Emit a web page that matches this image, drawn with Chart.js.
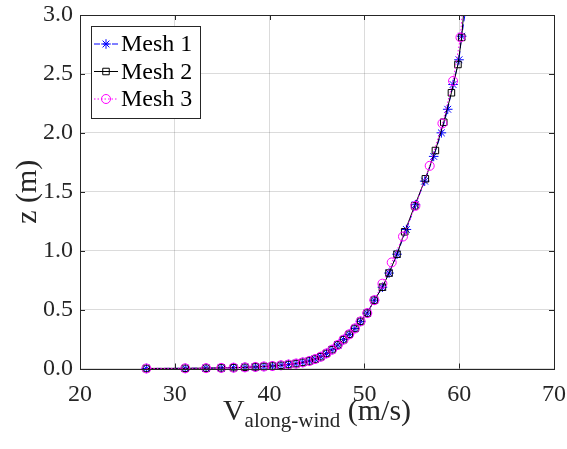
<!DOCTYPE html>
<html>
<head>
<meta charset="utf-8">
<script src="https://cdn.jsdelivr.net/npm/chart.js@4.4.1/dist/chart.umd.min.js"></script>
<style>
  html, body { margin: 0; padding: 0; background: #fff; }
</style>
</head>
<body>
<canvas id="profile" width="567" height="449"></canvas>
<script>
// near-wall samples, identical for the three meshes (z in m, V in m/s)
const nearZ = [0.0005, 0.0015, 0.003, 0.005, 0.007, 0.010, 0.013, 0.017, 0.021, 0.027, 0.034, 0.042,
               0.052, 0.064, 0.080, 0.100, 0.128, 0.160, 0.200, 0.245, 0.290, 0.340, 0.400, 0.470, 0.580];
const nearV = [27.0, 31.1, 33.3, 34.9, 36.2, 37.4, 38.5, 39.4, 40.3, 41.2, 42.0, 42.8,
               43.5, 44.2, 44.8, 45.4, 46.0, 46.6, 47.2, 47.8, 48.4, 49.0, 49.6, 50.3, 51.05];

// upper part of each mesh, last entry is where the profile leaves the axes
const mesh1Z = [0.69, 0.81, 0.97, 1.18, 1.39, 1.59, 1.80, 2.00, 2.20, 2.41, 2.62, 2.82, 3.0];
const mesh1V = [51.9, 52.6, 53.44, 54.43, 55.38, 56.36, 57.31, 58.12, 58.79, 59.35, 59.98, 60.26, 60.6];

const mesh2Z = [0.69, 0.81, 0.97, 1.16, 1.38, 1.61, 1.85, 2.09, 2.34, 2.58, 2.81, 3.0];
const mesh2V = [51.9, 52.6, 53.44, 54.25, 55.3, 56.43, 57.49, 58.37, 59.18, 59.87, 60.26, 60.45];

const mesh3Z = [0.72, 0.90, 1.12, 1.38, 1.72, 2.08, 2.44, 2.81, 3.0];
const mesh3V = [51.9, 52.88, 54.07, 55.38, 56.89, 58.23, 59.35, 60.13, 60.3];

const xTicks = [20, 30, 40, 50, 60, 70];
const yTicks = [0, 0.5, 1.0, 1.5, 2.0, 2.5, 3.0];
const meshNames = ['Mesh 1', 'Mesh 2', 'Mesh 3'];

const SERIF = "'Liberation Serif', 'Times New Roman', serif";
const AXIS_INK = '#262626';

function toPoints(vs, zs) {
  return vs.map((v, i) => ({ x: v, y: zs[i] }));
}

// no marker on the point that sits on the top edge
const markerSize = r => ctx => (ctx.raw && ctx.raw.y >= yTicks[yTicks.length - 1] ? 0 : r);

const series = [
  { label: meshNames[0], data: toPoints(nearV.concat(mesh1V), nearZ.concat(mesh1Z)),
    color: '#0000ff', dash: [6, 3], point: 'star', radius: 4.8, order: 3 },
  { label: meshNames[1], data: toPoints(nearV.concat(mesh2V), nearZ.concat(mesh2Z)),
    color: '#000000', dash: [], point: 'rect', radius: 4.6, order: 2 },
  { label: meshNames[2], data: toPoints(nearV.concat(mesh3V), nearZ.concat(mesh3Z)),
    color: '#ff00ff', dash: [1.5, 2], point: 'circle', radius: 4.5, order: 1 }
];

// legend box drawn the way the plotting tool lays it out: line sample through the marker
const legendBox = {
  id: 'legendBox',
  afterDraw(chart) {
    const c = chart.ctx;
    const x0 = 91, y0 = 26, w = 109, h = 92;
    c.save();
    c.fillStyle = '#fff';
    c.fillRect(x0, y0, w, h);
    c.strokeStyle = AXIS_INK;
    c.lineWidth = 1;
    c.strokeRect(x0 + 0.5, y0 + 0.5, w, h);
    series.forEach((s, i) => {
      const y = 44 + i * 27.5;
      c.strokeStyle = s.color;
      c.fillStyle = 'rgba(0,0,0,0)';
      c.lineWidth = 1;
      c.setLineDash(s.dash);
      c.beginPath();
      c.moveTo(94, y);
      c.lineTo(118, y);
      c.stroke();
      c.setLineDash([]);
      Chart.helpers.drawPoint(c, { pointStyle: s.point, radius: s.radius, rotation: 0, borderWidth: 1 }, 106, y);
      c.fillStyle = '#000';
      c.font = '24px ' + SERIF;
      c.textBaseline = 'middle';
      c.textAlign = 'left';
      c.fillText(s.label, 121, y + 1);
    });
    c.restore();
  }
};

// box frame, inward ticks and axis titles
const frame = {
  id: 'frame',
  afterDatasetsDraw(chart) {
    const c = chart.ctx;
    const a = chart.chartArea;
    const xs = chart.scales.x, ys = chart.scales.y;
    const tick = 5;
    c.save();
    c.strokeStyle = AXIS_INK;
    c.lineWidth = 1;
    c.beginPath();
    xTicks.forEach(t => {
      const px = Math.round(xs.getPixelForValue(t)) + 0.5;
      c.moveTo(px, a.bottom); c.lineTo(px, a.bottom - tick);
      c.moveTo(px, a.top); c.lineTo(px, a.top + tick);
    });
    yTicks.forEach(t => {
      const py = Math.round(ys.getPixelForValue(t)) + 0.5;
      c.moveTo(a.left, py); c.lineTo(a.left + tick, py);
      c.moveTo(a.right, py); c.lineTo(a.right - tick, py);
    });
    c.stroke();
    c.strokeRect(Math.round(a.left) + 0.5, Math.round(a.top) + 0.5,
                 Math.round(a.right - a.left), Math.round(a.bottom - a.top));

    c.fillStyle = AXIS_INK;
    // y title
    c.save();
    c.translate(28, (a.top + a.bottom) / 2);
    c.rotate(-Math.PI / 2);
    c.font = '30px ' + SERIF;
    c.textAlign = 'center';
    c.textBaseline = 'middle';
    c.fillText('z (m)', 0, 0);
    c.restore();

    // x title with subscript
    const main = '30px ' + SERIF, sub = '21px ' + SERIF;
    c.textBaseline = 'alphabetic';
    c.textAlign = 'left';
    c.font = main; const wV = c.measureText('V').width;
    c.font = sub; const wSub = c.measureText('along-wind').width;
    c.font = main; const wUnit = c.measureText(' (m/s)').width;
    let x = (a.left + a.right) / 2 - (wV + wSub + wUnit) / 2;
    const base = 420;
    c.font = main; c.fillText('V', x, base); x += wV;
    c.font = sub; c.fillText('along-wind', x, base + 7); x += wSub;
    c.font = main; c.fillText(' (m/s)', x, base);
    c.restore();
  }
};

new Chart(document.getElementById('profile'), {
  type: 'scatter',
  data: {
    datasets: series.map(s => ({
      label: s.label,
      data: s.data,
      showLine: true,
      borderColor: s.color,
      borderWidth: 1,
      borderDash: s.dash,
      pointStyle: s.point,
      pointRadius: markerSize(s.radius),
      pointBorderColor: s.color,
      pointBackgroundColor: 'rgba(0,0,0,0)',
      pointBorderWidth: 1,
      order: s.order,
      clip: false
    }))
  },
  plugins: [frame, legendBox],
  options: {
    responsive: false,
    animation: false,
    devicePixelRatio: 1,
    layout: { padding: { left: 0, top: 15, right: 13, bottom: 0 } },
    plugins: { legend: { display: false }, tooltip: { enabled: false } },
    scales: {
      x: {
        type: 'linear',
        min: xTicks[0],
        max: xTicks[xTicks.length - 1],
        afterFit(scale) { scale.height = 80.5; scale.paddingLeft = 0; scale.paddingRight = 0; },
        afterBuildTicks(scale) { scale.ticks = xTicks.map(v => ({ value: v })); },
        grid: { color: 'rgba(0,0,0,0.14)', drawTicks: false },
        border: { display: false },
        ticks: { padding: 12, color: AXIS_INK, font: { family: SERIF, size: 24 }, maxRotation: 0 }
      },
      y: {
        type: 'linear',
        min: yTicks[0],
        max: yTicks[yTicks.length - 1],
        afterFit(scale) { scale.width = 80; scale.paddingTop = 0; scale.paddingBottom = 0; },
        afterBuildTicks(scale) { scale.ticks = yTicks.map(v => ({ value: v })); },
        grid: { color: 'rgba(0,0,0,0.14)', drawTicks: false },
        border: { display: false },
        ticks: { padding: 7, color: AXIS_INK, font: { family: SERIF, size: 24 },
                 callback: v => Number(v).toFixed(1) }
      }
    }
  }
});
</script>
</body>
</html>
